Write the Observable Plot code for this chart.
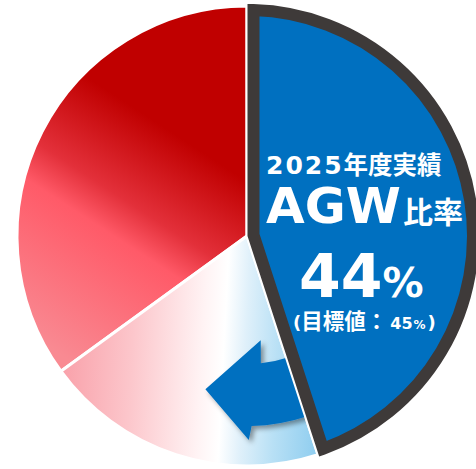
<!DOCTYPE html>
<html>
<head>
<meta charset="utf-8">
<script src="https://cdn.jsdelivr.net/npm/d3@7"></script>
<script src="https://cdn.jsdelivr.net/npm/@observablehq/plot@0.6"></script>
<style>
  html, body { margin: 0; padding: 0; background: #fff; overflow: hidden; }
</style>
</head>
<body>
<div id="chart"></div>
<script>
// ---- data ----
const sliceLabels = ["AGW", "区分B", "区分C"];
const sliceShares = [45, 20, 35];          // geometric shares of the three slices
const yearParts = ["2025", "年度実績"];
const metricParts = ["AGW", "比率"];
const actualValue = 44;
const targetLabel = "目標値";
const targetValue = 45;

// ---- styles ----
const blue = "#0070C0";
const borderColor = "#3E3A39";
const redStops = [[0, "#C00000"], [0.25, "#C00000"], [0.5, "#E3303A"], [0.61, "#FF5A68"], [0.97, "#F9868F"], [1, "#F98A92"]];
const pinkStops = [[0, "#F9A0A9"], [0.26, "#FCC6CB"], [0.52, "#FFF3F4"], [0.6, "#FFFFFF"], [0.68, "#DFF0FA"], [0.8, "#B8E0F5"], [1, "#86C9EE"]];
const latin = "'DejaVu Sans', 'Noto Sans CJK JP', sans-serif";
const cjk = "'Noto Sans CJK JP', 'DejaVu Sans', sans-serif";

const deg = Math.PI / 180;
const pt = (cx, cy, R, a) => [cx + R * Math.sin(a), cy - R * Math.cos(a)];

function pieLayer(index, scales) {
  const cx = scales.x(0), cy = scales.y(0);
  const r = scales.x(1) - cx;
  const g = d3.create("svg:g");
  const defs = g.append("defs");
  // gradient coordinates are relative to the pie centre (slices are translated there)
  const grad = (id, p0, p1, stops) => {
    const el = defs.append("linearGradient").attr("id", id)
      .attr("gradientUnits", "userSpaceOnUse")
      .attr("x1", p0[0] * r).attr("y1", p0[1] * r)
      .attr("x2", p1[0] * r).attr("y2", p1[1] * r);
    for (const [o, c] of stops) el.append("stop").attr("offset", o).attr("stop-color", c);
  };
  grad("gRed", [0.1, -0.6], [-0.682, 0.6], redStops);
  grad("gPink", [-0.813, 0.6], [0.361, 0.661], pinkStops);
  const f = defs.append("filter").attr("id", "arrowShadow")
    .attr("x", "-30%").attr("y", "-30%").attr("width", "160%").attr("height", "160%");
  f.append("feDropShadow").attr("dx", 3).attr("dy", 3).attr("stdDeviation", 2.5)
    .attr("flood-color", "#000").attr("flood-opacity", 0.4);

  const arcs = d3.pie().sort(null).value(d => d)(sliceShares);
  const arc = d3.arc().innerRadius(0).outerRadius(r);
  const tr = `translate(${cx},${cy})`;

  // red and pink slices
  g.append("path").attr("transform", tr).attr("d", arc(arcs[2]))
    .attr("fill", "url(#gRed)").attr("stroke", "#fff").attr("stroke-width", 3).attr("stroke-linejoin", "round");
  g.append("path").attr("transform", tr).attr("d", arc(arcs[1]))
    .attr("fill", "url(#gPink)").attr("stroke", "#fff").attr("stroke-width", 3).attr("stroke-linejoin", "round");

  // curved arrow (around the pie centre)
  const A = {inner: 0.557, outer: 0.826, headIn: 0.457, headOut: 0.887, tip: 0.69,
             start: 161.5, notchIn: 173.8, notchOut: 178.6, headInDeg: 172.5, headOutDeg: 179.5, tipDeg: 195.2};
  const s0 = pt(cx, cy, A.outer * r, A.start * deg);
  const s1 = pt(cx, cy, A.outer * r, A.notchOut * deg);
  const h1 = pt(cx, cy, A.headOut * r, A.headOutDeg * deg);
  const tp = pt(cx, cy, A.tip * r, A.tipDeg * deg);
  const h0 = pt(cx, cy, A.headIn * r, A.headInDeg * deg);
  const n0 = pt(cx, cy, A.inner * r, A.notchIn * deg);
  const e0 = pt(cx, cy, A.inner * r, A.start * deg);
  const arrowD = `M${s0}A${A.outer * r},${A.outer * r} 0 0 1 ${s1}L${h1}L${tp}L${h0}L${n0}` +
                 `A${A.inner * r},${A.inner * r} 0 0 0 ${e0}Z`;
  g.append("path").attr("d", arrowD).attr("fill", blue).attr("filter", "url(#arrowShadow)");

  // blue (AGW) slice
  g.append("path").attr("transform", tr).attr("d", arc(arcs[0]))
    .attr("fill", blue).attr("stroke", "#fff").attr("stroke-width", 3);

  // inset dark border of the AGW slice
  const a0 = arcs[0].startAngle, a1 = arcs[0].endAngle;
  const inset = 6.5, R = r - 4;
  const half = (a1 - a0) / 2, mid = (a0 + a1) / 2;
  const V = pt(cx, cy, inset / Math.sin(half), mid);
  const da = Math.asin(inset / R);
  const P0 = pt(cx, cy, R, a0 + da), P1 = pt(cx, cy, R, a1 - da);
  const large = (a1 - a0 - 2 * da) > Math.PI ? 1 : 0;
  g.append("path").attr("d", `M${V}L${P0}A${R},${R} 0 ${large} 1 ${P1}Z`)
    .attr("fill", "none").attr("stroke", borderColor).attr("stroke-width", 12)
    .attr("stroke-linejoin", "miter").attr("stroke-miterlimit", 10);
  return g.node();
}

function textLayer(index, scales) {
  const cx = scales.x(0), cy = scales.y(0);
  const g = d3.create("svg:g").attr("fill", "#fff").attr("font-weight", "bold");
  const line = (x, y, parts) => {
    const t = g.append("text").attr("x", cx + x).attr("y", cy + y).attr("text-anchor", "start");
    for (const p of parts) {
      const s = t.append("tspan").attr("font-family", p.f).attr("font-size", p.s).text(p.t);
      if (p.dx) s.attr("dx", p.dx);
      if (p.ls) s.attr("letter-spacing", p.ls);
    }
  };
  line(19, -62.5, [
    {t: yearParts[0], f: latin, s: 25, ls: 2},
    {t: yearParts[1], f: cjk, s: 24.5}
  ]);
  line(19, -13, [
    {t: metricParts[0], f: latin, s: 50},
    {t: metricParts[1], f: cjk, s: 30, dx: 2}
  ]);
  line(52, 61, [
    {t: String(actualValue), f: latin, s: 60},
    {t: "%", f: latin, s: 41}
  ]);
  line(46, 93, [
    {t: "(", f: latin, s: 18},
    {t: targetLabel + "：", f: cjk, s: 21.5},
    {t: String(targetValue), f: latin, s: 16, dx: 3},
    {t: "%", f: latin, s: 12, dx: 1},
    {t: ")", f: latin, s: 18, dx: 2}
  ]);
  return g.node();
}

const chart = Plot.plot({
  width: 476,
  height: 469,
  x: {domain: [-1, 1], range: [17, 477], axis: null},
  y: {domain: [-1, 1], range: [466, 6], axis: null},
  style: {background: "#fff", overflow: "visible"},
  marks: [pieLayer, textLayer]
});
document.getElementById("chart").append(chart);
</script>
</body>
</html>
